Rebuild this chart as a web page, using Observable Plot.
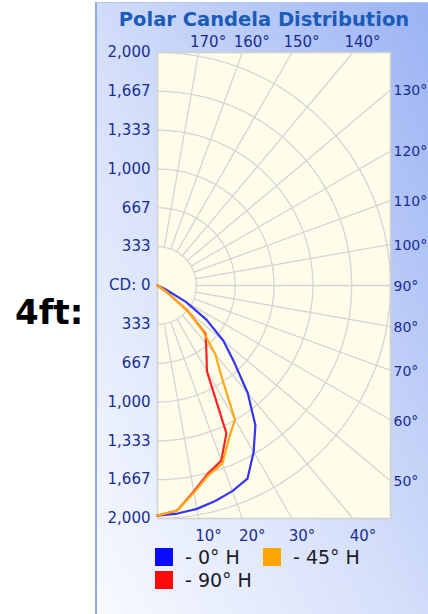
<!DOCTYPE html>
<html><head><meta charset="utf-8">
<script src="https://cdn.jsdelivr.net/npm/d3@7"></script>
<script src="https://cdn.jsdelivr.net/npm/@observablehq/plot@0.6"></script>
<style>
html,body{margin:0;padding:0;background:#fff;}
#wrap{position:relative;width:428px;height:614px;overflow:hidden;font-family:"DejaVu Sans",sans-serif;}
#panel{position:absolute;left:95px;top:2px;width:333px;height:612px;box-sizing:border-box;border-left:2px solid #8ea8ee;border-top:1px solid #b4c6f4;background:linear-gradient(to top right,#f8faff 0%,#d6e0fa 45%,#9bb3f4 100%);}
#side{position:absolute;left:15px;top:295px;font-weight:bold;font-size:34px;font-family:"DejaVu Sans";line-height:1;color:#000;}
#title{position:absolute;left:98px;width:332px;top:10px;text-align:center;font-weight:bold;font-size:19.5px;font-family:"DejaVu Sans";line-height:1;color:#1a5cb8;white-space:nowrap;}
#chart{position:absolute;left:0;top:0;}
.lg{position:absolute;display:flex;align-items:center;font-size:19px;font-family:"DejaVu Sans";color:#1c1c28;line-height:18px;height:18px;white-space:nowrap;}
.sw{width:18px;height:18px;margin-right:12px;}
</style>
</head><body>
<div id="wrap">
  <div id="panel"></div>
  <div id="side">4ft:</div>
  <div id="title">Polar Candela Distribution</div>
  <div id="chart"></div>
</div>
<script>
// vertical angles (degrees from nadir)
const angles = [0,5,10,15,20,25,30,35,40,45,50,55,60,65,70,75,80,85,90];
// candela values per horizontal plane
const cd0  = [1975,1965,1947,1915,1878,1829,1650,1465,1205,930,738,515,285,75,0,0,0,0,0];
const cd45 = [1975,1939,1805,1686,1628,1450,1330,960,775,552,333,90,0,0,0,0,0,0,0];
const cd90 = [1975,1939,1795,1672,1600,1400,848,734,648,585,333,90,0,0,0,0,0,0,0];
const seriesNames = ["- 0° H","- 45° H","- 90° H"];
const seriesColors = ["#3434f6","#ffa814","#ff2424"];
const legendSwatch = ["#0a0aff","#ffa500","#ff0a0a"];
// grid
const ringValues = [333.333,666.667,1000,1333.333,1666.667,2000];
const rayAngles = [0,10,20,30,40,50,60,70,80,90,100,110,120,130,140,150,160,170,180];
const yTicks = [-2000,-1666.667,-1333.333,-1000,-666.667,-333.333,0,333.333,666.667,1000,1333.333,1666.667,2000];
const bottomLabels = [10,20,30,40];
const rightLabels = [50,60,70,80,90,100,110,120,130];
const topLabels = [140,150,160,170];
const maxCd = 2000;

const rad = a => a*Math.PI/180;
const series = [cd0, cd45, cd90];
const curves = [];
series.forEach((vals,si) => angles.forEach((a,i) => curves.push({
  s: seriesNames[si], x: vals[i]*Math.sin(rad(a)), y: -vals[i]*Math.cos(rad(a))
})));
const drawOrder = [0,2,1];
const curvesOrdered = drawOrder.flatMap(si => curves.filter(d => d.s === seriesNames[si]));

const rings = [];
ringValues.forEach(r => { for (let a=0;a<=180;a+=2) rings.push({r, x:r*Math.sin(rad(a)), y:-r*Math.cos(rad(a))}); });

function edgePoint(a){
  const s=Math.sin(rad(a)), c=Math.cos(rad(a));
  const t1 = s>1e-9 ? maxCd/s : Infinity;
  const t2 = Math.abs(c)>1e-9 ? maxCd/Math.abs(c) : Infinity;
  const t=Math.min(t1,t2);
  return {x:t*s, y:-t*c};
}
const r0 = ringValues[0];
const rays = rayAngles.map(a => {
  const e=edgePoint(a);
  return {x1:r0*Math.sin(rad(a)), y1:-r0*Math.cos(rad(a)), x2:e.x, y2:e.y};
});
const lab = arr => arr.map(a => ({...edgePoint(a), t:a+"°"}));
const labelColor = "#182f92";
const fmt = d3.format(",");

const chart = Plot.plot({
  width:428, height:614,
  marginLeft:157, marginRight:38, marginTop:52, marginBottom:96,
  x:{domain:[0,maxCd], axis:null},
  y:{domain:[-maxCd,maxCd], axis:null},
  color:{domain:seriesNames, range:seriesColors},
  style:{background:"transparent", fontFamily:"DejaVu Sans", fontSize:"15px", overflow:"visible"},
  marks:[
    Plot.frame({fill:"#fdfdea", stroke:"#d0d0d0", strokeWidth:1.5}),
    Plot.line(rings, {x:"x", y:"y", z:"r", stroke:"#d5d5d5", strokeWidth:1.3}),
    Plot.link(rays, {x1:"x1", y1:"y1", x2:"x2", y2:"y2", stroke:"#d5d5d5", strokeWidth:1.3}),
    Plot.line(curvesOrdered, {x:"x", y:"y", z:"s", stroke:"s", strokeWidth:2.2, strokeLinejoin:"miter"}),
    Plot.axisY(yTicks, {tickSize:0, tickPadding:7, fontSize:15, color:labelColor,
      tickFormat: d => Math.abs(d) < 1 ? "CD: 0" : fmt(Math.round(Math.abs(d)))}),
    Plot.text(lab(rightLabels), {x:"x", y:"y", text:"t", textAnchor:"start", dx:3, dy:1, fontSize:14, fill:labelColor}),
    Plot.text(lab(topLabels), {x:"x", y:"y", text:"t", textAnchor:"middle", dx:9.5, dy:-10.5, fontSize:15, fill:labelColor}),
    Plot.text(lab(bottomLabels), {x:"x", y:"y", text:"t", textAnchor:"middle", dx:10, dy:18, fontSize:15, fill:labelColor})
  ]
});
document.getElementById("chart").appendChild(chart);

// legend
const wrap = document.getElementById("wrap");
seriesNames.forEach((n,i) => {
  const el = document.createElement("div");
  el.className = "lg";
  el.style.left = (i%2===0 ? 155 : 263) + "px";
  el.style.top = (548 + Math.floor(i/2)*23) + "px";
  el.innerHTML = '<span class="sw" style="background:'+legendSwatch[i]+'"></span><span>'+n+'</span>';
  wrap.appendChild(el);
});
</script>
</body></html>
